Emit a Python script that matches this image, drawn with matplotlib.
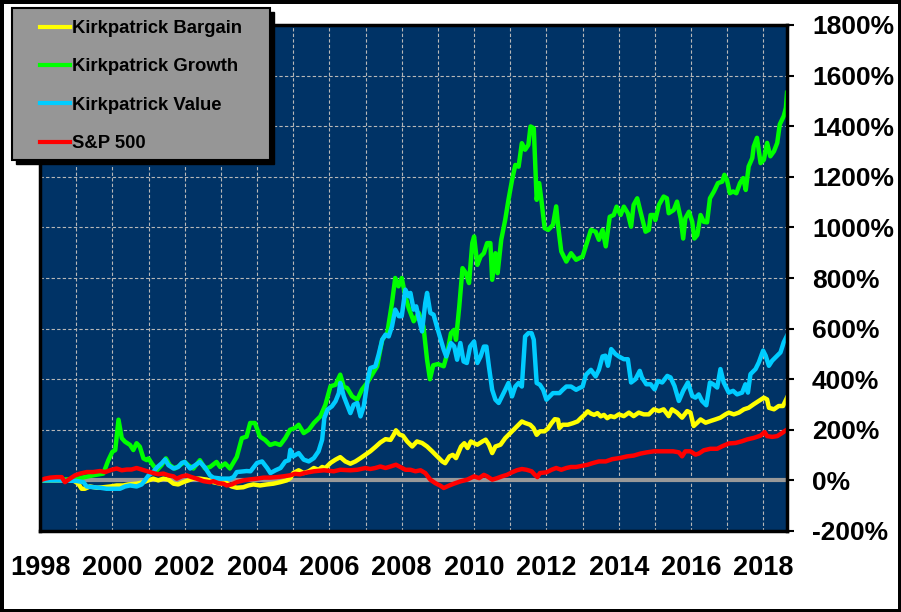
import matplotlib
matplotlib.use('Agg')
import matplotlib.pyplot as plt
from matplotlib.patches import Rectangle
from matplotlib.lines import Line2D
from matplotlib.ticker import MultipleLocator, FuncFormatter

plt.rcParams['font.family'] = ['Liberation Sans', 'DejaVu Sans']
plt.rcParams['font.weight'] = 'bold'

# cumulative return in % at (decimal year, value)
bargain_t = [1998.0, 1998.5, 1998.92, 1999.06, 1999.15, 1999.24, 1999.38, 1999.57, 1999.75, 1999.94,
             2000.12, 2000.3, 2000.44, 2000.67, 2000.86, 2001.0, 2001.13, 2001.27, 2001.41, 2001.55,
             2001.69, 2001.82, 2001.96, 2002.1, 2002.24, 2002.42, 2002.61, 2002.79, 2002.98, 2003.12,
             2003.3, 2003.44, 2003.62, 2003.76, 2003.9, 2004.08, 2004.27, 2004.45, 2004.64, 2004.82,
             2004.92, 2005.0, 2005.15, 2005.29, 2005.43, 2005.57, 2005.7, 2005.8, 2005.89, 2006.03,
             2006.17, 2006.3, 2006.44, 2006.58, 2006.72, 2006.86, 2007.0, 2007.13, 2007.27, 2007.41,
             2007.55, 2007.69, 2007.78, 2007.84, 2007.94, 2008.03, 2008.15, 2008.29, 2008.42, 2008.56,
             2008.7, 2008.84, 2008.98, 2009.12, 2009.2, 2009.32, 2009.41, 2009.5, 2009.64, 2009.73,
             2009.82, 2009.91, 2010.0, 2010.09, 2010.23, 2010.32, 2010.41, 2010.5, 2010.59, 2010.73,
             2010.86, 2010.95, 2011.09, 2011.23, 2011.32, 2011.41, 2011.55, 2011.64, 2011.73, 2011.82,
             2011.95, 2012.05, 2012.14, 2012.23, 2012.32, 2012.36, 2012.45, 2012.59, 2012.73, 2012.86,
             2012.95, 2013.05, 2013.14, 2013.23, 2013.32, 2013.41, 2013.5, 2013.59, 2013.68, 2013.77,
             2013.88, 2014.0, 2014.14, 2014.28, 2014.41, 2014.55, 2014.69, 2014.83, 2014.97, 2015.11,
             2015.24, 2015.38, 2015.47, 2015.61, 2015.75, 2015.89, 2015.98, 2016.07, 2016.17, 2016.26,
             2016.4, 2016.54, 2016.67, 2016.81, 2016.95, 2017.04, 2017.18, 2017.32, 2017.46, 2017.59,
             2017.73, 2017.87, 2018.01, 2018.1, 2018.15, 2018.29, 2018.42, 2018.54, 2018.65]
bargain_v = [0, 0, 0, -13, -33, -33, -24, -29, -27, -24,
             -20, -20, -16, -13, -7, 0, 7, 0, 7, 3,
             -13, -16, -7, 0, 7, 7, 3, -7, -13, -7,
             -24, -29, -27, -20, -16, -20, -16, -13, -7, 0,
             9, 29, 40, 29, 36, 49, 42, 53, 49, 69,
             82, 92, 75, 66, 75, 88, 102, 115, 132, 150,
             163, 160, 181, 198, 181, 177, 154, 134, 154, 148,
             134, 115, 95, 75, 68, 95, 101, 88, 134, 147,
             128, 154, 147, 141, 154, 161, 141, 108, 134, 141,
             167, 180, 200, 220, 233, 227, 220, 207, 180, 194,
             194, 207, 226, 242, 240, 207, 220, 220, 226, 233,
             246, 259, 273, 264, 259, 266, 253, 259, 246, 254,
             250, 261, 254, 268, 254, 268, 261, 261, 281, 274,
             281, 254, 281, 268, 248, 274, 268, 215, 228, 241,
             228, 235, 241, 248, 261, 268, 261, 268, 281, 287,
             301, 314, 327, 320, 287, 281, 294, 294, 327]

growth_t = [1998.0, 1998.5, 1999.0, 1999.2, 1999.47, 1999.75, 1999.89, 2000.0, 2000.08, 2000.17,
            2000.26, 2000.35, 2000.49, 2000.58, 2000.67, 2000.76, 2000.86, 2000.95, 2001.0, 2001.09,
            2001.23, 2001.36, 2001.48, 2001.59, 2001.73, 2001.87, 2002.0, 2002.1, 2002.24, 2002.42,
            2002.56, 2002.7, 2002.88, 2002.98, 2003.12, 2003.25, 2003.44, 2003.58, 2003.71, 2003.81,
            2003.94, 2004.08, 2004.22, 2004.36, 2004.5, 2004.64, 2004.78, 2004.91, 2005.05, 2005.15,
            2005.29, 2005.43, 2005.57, 2005.75, 2005.89, 2006.03, 2006.17, 2006.3, 2006.4, 2006.49,
            2006.63, 2006.77, 2006.9, 2007.04, 2007.18, 2007.32, 2007.46, 2007.6, 2007.73, 2007.82,
            2007.91, 2008.0, 2008.1, 2008.19, 2008.33, 2008.47, 2008.6, 2008.7, 2008.78, 2008.87,
            2009.0, 2009.16, 2009.25, 2009.36, 2009.45, 2009.5, 2009.59, 2009.68, 2009.77, 2009.86,
            2009.95, 2010.0, 2010.09, 2010.18, 2010.27, 2010.36, 2010.45, 2010.5, 2010.59, 2010.65,
            2010.75, 2010.86, 2010.95, 2011.05, 2011.14, 2011.23, 2011.32, 2011.41, 2011.5, 2011.56,
            2011.65, 2011.73, 2011.8, 2011.86, 2011.95, 2012.05, 2012.18, 2012.27, 2012.32, 2012.41,
            2012.55, 2012.68, 2012.82, 2013.0, 2013.23, 2013.36, 2013.45, 2013.55, 2013.64, 2013.75,
            2013.86, 2013.94, 2014.05, 2014.14, 2014.25, 2014.34, 2014.41, 2014.51, 2014.6, 2014.74,
            2014.83, 2014.88, 2014.97, 2015.01, 2015.11, 2015.24, 2015.33, 2015.38, 2015.52, 2015.61,
            2015.71, 2015.78, 2015.84, 2015.94, 2016.03, 2016.09, 2016.17, 2016.26, 2016.35, 2016.44,
            2016.52, 2016.63, 2016.74, 2016.86, 2016.92, 2016.99, 2017.07, 2017.16, 2017.25, 2017.35,
            2017.44, 2017.51, 2017.59, 2017.69, 2017.73, 2017.82, 2017.92, 2018.01, 2018.1, 2018.19,
            2018.29, 2018.38, 2018.45, 2018.56, 2018.62, 2018.65]
growth_v = [0, 3, 5, 12, 20, 27, 80, 113, 120, 240,
            167, 153, 140, 120, 147, 133, 87, 80, 87, 67,
            40, 60, 87, 60, 47, 60, 73, 60, 47, 80,
            47, 53, 73, 53, 67, 47, 93, 167, 173, 227,
            227, 173, 160, 140, 147, 140, 167, 200, 207, 220,
            187, 200, 227, 253, 299, 372, 378, 418, 370, 365,
            332, 319, 359, 385, 418, 451, 556, 583, 701, 800,
            767, 800, 728, 682, 629, 662, 609, 477, 400, 455,
            460, 451, 497, 582, 595, 556, 687, 839, 820, 780,
            938, 964, 852, 885, 898, 938, 938, 793, 898, 819,
            951, 1030, 1109, 1188, 1247, 1240, 1333, 1307, 1326, 1399,
            1392, 1109, 1175, 1109, 997, 990, 1010, 1083, 1010, 905,
            865, 898, 872, 885, 990, 983, 951, 990, 925, 1042,
            1049, 1082, 1049, 1082, 1056, 1003, 1089, 1115, 1062, 983,
            990, 1049, 1049, 1029, 1089, 1122, 1115, 1056, 1069, 1102,
            1036, 956, 1036, 1062, 1022, 956, 970, 1049, 1022, 1020,
            1115, 1142, 1175, 1181, 1208, 1188, 1135, 1142, 1135, 1175,
            1195, 1148, 1241, 1274, 1320, 1354, 1254, 1267, 1334, 1281,
            1301, 1334, 1407, 1440, 1473, 1532]

value_t = [1998.0, 1998.5, 1999.0, 1999.2, 1999.29, 1999.47, 1999.66, 1999.84, 2000.03, 2000.21,
           2000.35, 2000.49, 2000.67, 2000.81, 2000.9, 2001.0, 2001.13, 2001.23, 2001.36, 2001.46,
           2001.55, 2001.69, 2001.82, 2001.92, 2002.0, 2002.15, 2002.29, 2002.42, 2002.56, 2002.7,
           2002.79, 2003.02, 2003.25, 2003.35, 2003.44, 2003.71, 2003.82, 2004.0, 2004.14, 2004.28,
           2004.37, 2004.51, 2004.65, 2004.78, 2004.88, 2004.92, 2005.0, 2005.15, 2005.29, 2005.43,
           2005.57, 2005.7, 2005.8, 2005.86, 2005.95, 2006.07, 2006.17, 2006.26, 2006.3, 2006.4,
           2006.49, 2006.58, 2006.67, 2006.77, 2006.86, 2006.95, 2007.06, 2007.13, 2007.27, 2007.36,
           2007.46, 2007.55, 2007.64, 2007.73, 2007.82, 2007.92, 2008.0, 2008.1, 2008.19, 2008.24,
           2008.33, 2008.4, 2008.47, 2008.56, 2008.65, 2008.7, 2008.79, 2008.88, 2008.97, 2009.05,
           2009.16, 2009.23, 2009.36, 2009.45, 2009.53, 2009.62, 2009.71, 2009.8, 2009.89, 2010.0,
           2010.09, 2010.18, 2010.27, 2010.34, 2010.41, 2010.5, 2010.59, 2010.68, 2010.77, 2010.86,
           2010.95, 2011.05, 2011.14, 2011.23, 2011.32, 2011.41, 2011.5, 2011.59, 2011.65, 2011.73,
           2011.82, 2011.91, 2012.0, 2012.09, 2012.18, 2012.36, 2012.45, 2012.55, 2012.68, 2012.82,
           2012.91, 2013.0, 2013.09, 2013.23, 2013.36, 2013.45, 2013.55, 2013.63, 2013.7, 2013.79,
           2013.91, 2014.0, 2014.14, 2014.25, 2014.34, 2014.46, 2014.58, 2014.64, 2014.76, 2014.88,
           2014.99, 2015.08, 2015.2, 2015.34, 2015.43, 2015.54, 2015.66, 2015.78, 2015.91, 2016.03,
           2016.12, 2016.21, 2016.3, 2016.42, 2016.52, 2016.61, 2016.72, 2016.81, 2016.9, 2017.04,
           2017.16, 2017.27, 2017.41, 2017.5, 2017.57, 2017.64, 2017.78, 2017.87, 2017.99, 2018.06,
           2018.15, 2018.24, 2018.33, 2018.47, 2018.56, 2018.65]
value_v = [0, 0, -2, -7, -24, -27, -29, -33, -33, -33,
           -24, -20, -24, -16, 0, 20, 33, 51, 67, 83,
           60, 47, 53, 69, 73, 47, 60, 73, 51, 20,
           11, 7, 7, 13, 33, 37, 36, 69, 75, 49,
           29, 40, 49, 75, 80, 121, 95, 108, 82, 75,
           88, 115, 161, 247, 280, 293, 313, 345, 385, 332,
           299, 266, 299, 306, 253, 293, 398, 444, 451, 497,
           556, 576, 569, 609, 675, 649, 649, 754, 728, 741,
           675, 688, 642, 589, 701, 741, 662, 655, 609, 570,
           517, 490, 543, 530, 477, 543, 470, 464, 529, 549,
           464, 490, 529, 529, 450, 358, 319, 306, 332, 358,
           385, 332, 371, 385, 371, 569, 582, 582, 556, 385,
           378, 358, 319, 332, 345, 345, 358, 371, 371, 358,
           365, 371, 417, 437, 411, 437, 490, 493, 453, 519,
           499, 490, 479, 479, 387, 400, 433, 407, 380, 380,
           360, 393, 387, 413, 407, 373, 314, 354, 387, 334,
           327, 340, 314, 297, 387, 380, 367, 440, 387, 347,
           354, 340, 347, 380, 347, 420, 440, 466, 513, 493,
           453, 473, 486, 506, 546, 572]

sp500_t = [1998.0, 1998.14, 1998.28, 1998.46, 1998.6, 1998.69, 1998.83, 1998.97, 1999.11, 1999.29,
           1999.47, 1999.66, 1999.8, 2000.0, 2000.12, 2000.26, 2000.4, 2000.53, 2000.67, 2000.81,
           2000.95, 2001.13, 2001.27, 2001.41, 2001.55, 2001.69, 2001.78, 2001.92, 2002.05, 2002.19,
           2002.33, 2002.52, 2002.7, 2002.79, 2002.93, 2003.07, 2003.16, 2003.3, 2003.44, 2003.62,
           2003.81, 2004.0, 2004.18, 2004.36, 2004.54, 2004.72, 2004.91, 2005.05, 2005.19, 2005.3,
           2005.57, 2005.85, 2006.12, 2006.3, 2006.58, 2006.77, 2007.0, 2007.13, 2007.27, 2007.41,
           2007.55, 2007.69, 2007.84, 2007.96, 2008.1, 2008.24, 2008.38, 2008.52, 2008.65, 2008.79,
           2008.93, 2009.07, 2009.16, 2009.3, 2009.44, 2009.62, 2009.81, 2010.0, 2010.14, 2010.27,
           2010.36, 2010.5, 2010.64, 2010.77, 2010.91, 2011.05, 2011.18, 2011.32, 2011.45, 2011.59,
           2011.68, 2011.75, 2011.82, 2012.0, 2012.14, 2012.27, 2012.41, 2012.55, 2012.68, 2012.82,
           2013.0, 2013.14, 2013.27, 2013.45, 2013.64, 2013.82, 2014.05, 2014.23, 2014.41, 2014.6,
           2014.78, 2014.97, 2015.15, 2015.34, 2015.5, 2015.66, 2015.75, 2015.84, 2015.98, 2016.12,
           2016.21, 2016.35, 2016.53, 2016.72, 2016.86, 2017.04, 2017.23, 2017.41, 2017.55, 2017.73,
           2017.92, 2018.03, 2018.1, 2018.24, 2018.38, 2018.52, 2018.65]
sp500_v = [0, 7, 11, 13, 13, -7, 7, 20, 27, 33,
           33, 37, 33, 43, 47, 40, 43, 43, 49, 43,
           37, 29, 24, 27, 20, 16, 7, 16, 20, 13,
           7, -3, -7, -3, -11, -13, -20, -16, -7, 0,
           4, 7, 11, 11, 13, 16, 20, 26, 24, 29,
           36, 40, 36, 42, 40, 42, 49, 45, 49, 55,
           49, 55, 62, 53, 42, 42, 36, 40, 29, 3,
           -11, -21, -30, -21, -13, -4, 3, 16, 9, 22,
           16, 3, 9, 16, 22, 32, 40, 45, 42, 36,
           22, 13, 29, 32, 42, 49, 42, 49, 53, 53,
           58, 62, 68, 75, 75, 84, 89, 95, 98, 106,
           111, 115, 115, 115, 115, 111, 95, 115, 115, 102,
           106, 119, 125, 125, 135, 146, 148, 155, 162, 168,
           177, 191, 175, 172, 175, 188, 201]

labels = ['Kirkpatrick Bargain', 'Kirkpatrick Growth', 'Kirkpatrick Value', 'S&P 500']
colors = ['#FFFF00', '#00FF00', '#00CCFF', '#FF0000']

W, H = 901, 612
fig = plt.figure(figsize=(W / 100, H / 100), dpi=100, facecolor='white',
                 edgecolor='black', linewidth=5)
ax = fig.add_axes([40 / W, 1 - 531 / H, (787 - 40) / W, (531 - 25) / H])
ax.set_facecolor('#003366')

ax.axhline(0, color='#999999', lw=3, zorder=1.5)
series = [(bargain_t, bargain_v), (growth_t, growth_v), (value_t, value_v), (sp500_t, sp500_v)]
for (t, v), lab, col in zip(series, labels, colors):
    ax.plot(t, v, color=col, lw=3.2, label=lab, zorder=2, solid_joinstyle='round')

ax.set_xlim(1998, 2018.65)
ax.set_ylim(-200, 1800)
ax.xaxis.set_major_locator(MultipleLocator(2))
ax.xaxis.set_minor_locator(MultipleLocator(1))
ax.xaxis.set_major_formatter(FuncFormatter(lambda v, p: '%d' % v))
ax.yaxis.set_major_locator(MultipleLocator(200))
ax.yaxis.set_major_formatter(FuncFormatter(lambda v, p: '%d%%' % v))
ax.yaxis.tick_right()

ax.set_axisbelow(True)
ax.grid(True, which='both', axis='x', color='#b8b8b8', linestyle=(0, (3, 2)), linewidth=0.8)
ax.grid(True, which='major', axis='y', color='#b8b8b8', linestyle=(0, (3, 2)), linewidth=0.8)

ax.tick_params(axis='x', which='both', length=0, pad=17, labelsize=19.5)
ax.tick_params(axis='y', length=5, width=1.5, direction='out', pad=13, labelsize=19)
for s in ax.spines.values():
    s.set_linewidth(2.5)
    s.set_color('black')

# legend box with black drop shadow
bx, by, bw, bh = 12, 8, 258, 152
fig.add_artist(Rectangle(((bx + 4) / W, 1 - (by + bh + 4) / H), bw / W, bh / H,
                         transform=fig.transFigure, facecolor='black', edgecolor='black', zorder=2))
fig.add_artist(Rectangle((bx / W, 1 - (by + bh) / H), bw / W, bh / H,
                         transform=fig.transFigure, facecolor='#969696', edgecolor='black',
                         linewidth=1.5, zorder=3))
handles = [Line2D([], [], color=c, lw=3) for c in colors]
fig.legend(handles, labels, loc='upper left', bbox_to_anchor=(40 / W, 1 - 20 / H),
           frameon=False, borderpad=0, borderaxespad=0, handlelength=1.6, handletextpad=0.12,
           labelspacing=1.16, prop={'weight': 'bold', 'size': 13.3})

fig.savefig('out.png', dpi=100)
